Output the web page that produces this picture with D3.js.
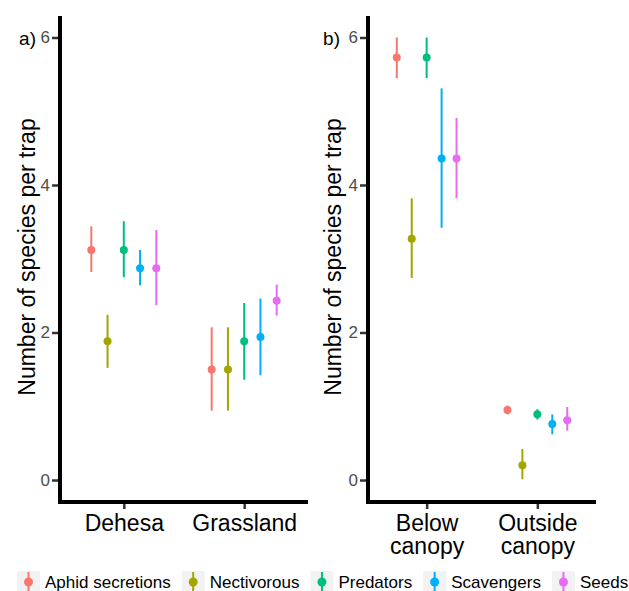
<!DOCTYPE html>
<html>
<head>
<meta charset="utf-8">
<script src="https://cdn.jsdelivr.net/npm/d3@7"></script>
<style>
  body { margin: 0; background: #fff; }
  svg { display: block; font-family: "Liberation Sans", Arial, sans-serif; }
</style>
</head>
<body>
<svg id="chart" width="629" height="591"></svg>
<script>
// groups (series) and colours
const groups = ["Aphid secretions", "Nectivorous", "Predators", "Scavengers", "Seeds"];
const colors = ["#F8766D", "#A3A500", "#00BF7D", "#00B0F6", "#E76BF3"];

// panel a: habitat
const habitats = ["Dehesa", "Grassland"];
const meanA  = [[3.12, 1.88, 3.12, 2.87, 2.87], [1.50, 1.50, 1.88, 1.94, 2.43]];
const lowerA = [[2.82, 1.52, 2.75, 2.64, 2.37], [0.94, 0.94, 1.36, 1.42, 2.23]];
const upperA = [[3.44, 2.24, 3.51, 3.12, 3.39], [2.07, 2.07, 2.40, 2.46, 2.65]];

// panel b: canopy
const canopy = ["Below canopy", "Outside canopy"];
const meanB  = [[5.73, 3.27, 5.73, 4.36, 4.36], [0.95, 0.20, 0.89, 0.76, 0.81]];
const lowerB = [[5.45, 2.74, 5.45, 3.42, 3.82], [0.89, 0.01, 0.82, 0.62, 0.67]];
const upperB = [[6.00, 3.82, 6.00, 5.31, 4.91], [1.01, 0.42, 0.96, 0.89, 0.99]];

const yTicks = [0, 2, 4, 6];

const svg = d3.select("#chart");
const y = d3.scaleLinear().domain([0, 6]).range([480, 37.5]);
const panelTop = 16, panelBottom = 502;
const font = '"Liberation Sans", Arial, sans-serif';

function drawPanel(opts) {
  const { left, right, cats, mean, lower, upper, tag, labelX } = opts;
  const g = svg.append("g");

  const x = d3.scalePoint().domain(cats).range([left, right]).padding(0.53);
  const dodge = x.step() * 0.135;

  // y axis ticks
  const ya = g.append("g")
    .attr("transform", `translate(${left - 2},0)`)
    .call(d3.axisLeft(y).tickValues(yTicks).tickFormat(d3.format("d")).tickSize(6).tickPadding(2))
    .attr("font-family", font)
    .attr("font-size", 17);
  ya.select(".domain").remove();
  ya.selectAll(".tick line").attr("stroke", "#333").attr("stroke-width", 2.5);
  ya.selectAll(".tick text").attr("fill", "#4D4D4D");

  // x axis ticks
  const xa = g.append("g")
    .attr("transform", `translate(0,${panelBottom + 2})`)
    .call(d3.axisBottom(x).tickSize(5).tickPadding(6))
    .attr("font-family", font)
    .attr("font-size", 23);
  xa.select(".domain").remove();
  xa.selectAll(".tick line").attr("stroke", "#333").attr("stroke-width", 2.5);
  xa.selectAll(".tick text").each(function (d) {
    const t = d3.select(this).text("").attr("fill", "#000");
    d.split(" ").forEach((w, i) => {
      t.append("tspan").attr("x", 0).attr("dy", i === 0 ? "0.71em" : "0.97em").text(w);
    });
  });

  // axis lines
  g.append("line")
    .attr("x1", left).attr("x2", left)
    .attr("y1", panelTop).attr("y2", panelBottom + 2)
    .attr("stroke", "#000").attr("stroke-width", 4);
  g.append("line")
    .attr("x1", left - 2).attr("x2", right)
    .attr("y1", panelBottom).attr("y2", panelBottom)
    .attr("stroke", "#000").attr("stroke-width", 4);

  // y label
  g.append("text")
    .attr("transform", `translate(${labelX},257) rotate(-90)`)
    .attr("text-anchor", "middle")
    .style("font-size", "23px")
    .text("Number of species per trap");

  // panel tag
  g.append("text")
    .attr("x", tag.x).attr("y", y(6) + 7)
    .attr("text-anchor", "end")
    .style("font-size", "19px")
    .text(tag.text);

  // point ranges
  cats.forEach((c, ci) => {
    groups.forEach((grp, gi) => {
      const px = x(c) + (gi - 2) * dodge;
      g.append("line")
        .attr("x1", px).attr("x2", px)
        .attr("y1", y(lower[ci][gi])).attr("y2", y(upper[ci][gi]))
        .attr("stroke", colors[gi]).attr("stroke-width", 2);
      g.append("circle")
        .attr("cx", px).attr("cy", y(mean[ci][gi]))
        .attr("r", 4)
        .attr("fill", colors[gi]);
    });
  });
}

drawPanel({ left: 60, right: 308, cats: habitats, mean: meanA, lower: lowerA, upper: upperA,
  tag: { x: 36, text: "a)" }, labelX: 35 });
drawPanel({ left: 368, right: 596, cats: canopy, mean: meanB, lower: lowerB, upper: upperB,
  tag: { x: 340, text: "b)" }, labelX: 341 });

// legend
const legend = svg.append("g");
let cx = 17;
groups.forEach((grp, i) => {
  const item = legend.append("g").attr("transform", `translate(${cx},0)`);
  item.append("rect")
    .attr("x", 0).attr("y", 571).attr("width", 23).attr("height", 23)
    .attr("fill", "#F2F2F2");
  item.append("line")
    .attr("x1", 11.5).attr("x2", 11.5).attr("y1", 572).attr("y2", 593)
    .attr("stroke", colors[i]).attr("stroke-width", 2);
  item.append("circle")
    .attr("cx", 11.5).attr("cy", 582).attr("r", 4.5)
    .attr("fill", colors[i]);
  const t = item.append("text")
    .attr("x", 28).attr("y", 588)
    .style("font-size", "17px")
    .text(grp);
  cx += 28 + t.node().getComputedTextLength() + 11;
});
</script>
</body>
</html>
